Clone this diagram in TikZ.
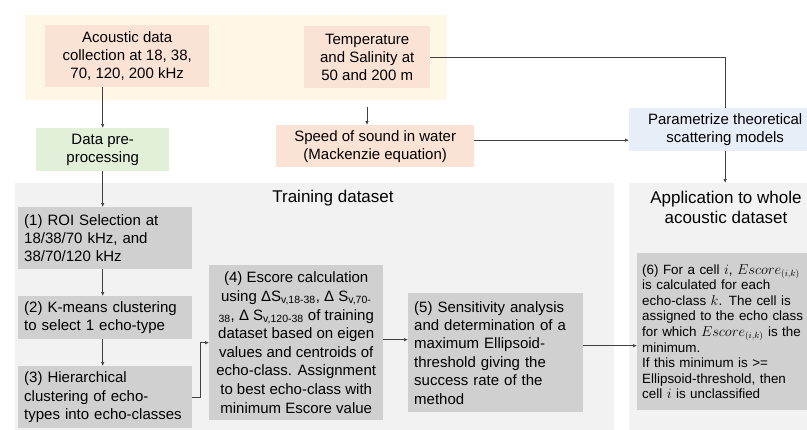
\documentclass[tikz,border=0pt]{standalone}
\usepackage{fontspec}
\setmainfont{Liberation Sans}
\usetikzlibrary{arrows.meta}
\definecolor{bandc}{RGB}{255,247,230}
\definecolor{salmon}{RGB}{250,226,212}
\definecolor{greenbox}{RGB}{226,240,217}
\definecolor{bluebox}{RGB}{232,238,248}
\definecolor{panelc}{RGB}{242,242,242}
\definecolor{graybox}{RGB}{208,208,208}
\definecolor{linec}{RGB}{64,64,64}
\tikzset{
  bg/.style={anchor=north west, inner sep=0pt, draw=none},
  ctext/.style={font=\fontsize{15}{18}\selectfont, align=center},
  lbox/.style={fill=graybox, font=\fontsize{15}{18.4}\selectfont, align=left, inner xsep=6pt, inner ysep=0pt},
  cbox/.style={fill=graybox, font=\fontsize{15}{18.6}\selectfont, align=center},
  title/.style={font=\fontsize{17}{20}\selectfont, align=center, inner sep=0pt},
  conn/.style={draw=linec, line width=0.7pt, -{Latex[length=4pt,width=3.5pt]}},
  plainline/.style={draw=linec, line width=0.7pt},
}
\begin{document}
\begin{tikzpicture}[x=1pt,y=-1pt]
\useasboundingbox (0,0) rectangle (807,429);
% backgrounds
\node[bg, fill=bandc, minimum width=422pt, minimum height=85pt] (band) at (25,15) {};
\node[bg, fill=panelc, minimum width=599pt, minimum height=250pt] (lpanel) at (15,183) {};
\node[bg, fill=panelc, minimum width=192pt, minimum height=250pt] (rpanel) at (629,183) {};
% top boxes
\node[bg, ctext, fill=salmon, minimum width=164pt, minimum height=62pt] (acoustic) at (45,25)
  {Acoustic data\\collection at 18, 38,\\70, 120, 200 kHz};
\node[bg, ctext, fill=salmon, minimum width=126pt, minimum height=62pt] (temp) at (304,26)
  {Temperature\\and Salinity at\\50 and 200 m};
\node[bg, ctext, fill=greenbox, minimum width=133pt, minimum height=43pt] (pre) at (36,128)
  {Data pre-\\processing};
\node[bg, ctext, fill=salmon, minimum width=198pt, minimum height=42pt] (speed) at (276,125)
  {Speed of sound in water\\(Mackenzie equation)};
\node[bg, ctext, fill=bluebox, minimum width=192pt, minimum height=43pt] (param) at (629,108)
  {Parametrize theoretical\\scattering models};
% titles
\node[title] (traintitle) at (333,198) {Training dataset};
\node[title] (apptitle) at (726,207) {Application to whole\\acoustic dataset};
% gray boxes
\node[bg, lbox, text width=162pt, minimum height=62pt] (roi) at (18,207)
  {(1) ROI Selection at\\18/38/70 kHz, and\\38/70/120 kHz};
\node[bg, lbox, text width=162pt, minimum height=43pt] (km) at (18,296)
  {(2) K-means clustering\\to select 1 echo-type};
\node[bg, lbox, text width=162pt, minimum height=62pt] (hier) at (18,366)
  {(3) Hierarchical\\clustering of echo-\\types into echo-classes};
\node[bg, cbox, minimum width=174pt, minimum height=155pt] (b4) at (209,265)
  {(4) Escore calculation\\
   using ΔS\textsubscript{v,18-38}, Δ S\textsubscript{v,70-}\\
   \textsubscript{38}, Δ S\textsubscript{v,120-38} of training\\
   dataset based on eigen\\
   values and centroids of\\
   echo-class. Assignment\\
   to best echo-class with\\
   minimum Escore value};
\node[bg, lbox, text width=163pt, minimum height=119pt] (b5) at (408,293)
  {(5) Sensitivity analysis\\and determination of a\\maximum Ellipsoid-\\threshold giving the\\success rate of the\\method};
\node[bg, lbox, font=\fontsize{13.4}{15.6}\selectfont, inner xsep=5pt, text width=176pt, minimum height=157pt] (b6) at (637,253)
  {(6) For a cell $i$, $Escore_{(i,k)}$\\
   is calculated for each\\
   echo-class $k$. The cell is\\
   assigned to the echo class\\
   for which $Escore_{(i,k)}$ is the\\
   minimum.\\
   If this minimum is >=\\
   Ellipsoid-threshold, then\\
   cell $i$ is unclassified};
% connectors
\coordinate (tdown) at (367,107);
\draw[conn] (acoustic.south -| pre.north) -- (pre.north);
\draw[conn] (pre.south) -- (pre.south |- roi.north);
\draw[conn] (roi.south -| pre.south) -- (km.north -| pre.south);
\draw[conn] (km.south -| pre.south) -- (hier.north -| pre.south);
\draw[conn] (hier.east) -- ++(8,0) |- (b4.west);
\draw[conn] ([yshift=3pt]b4.east) -- ([yshift=3pt]b4.east -| b5.west);
\draw[conn] ([yshift=7pt]b5.east) -- ([yshift=7pt]b5.east -| b6.west);
\draw[plainline] (temp.east) -| (param.north);
\draw[conn] (tdown) -- (tdown |- speed.north);
\draw[conn] ([yshift=6pt]speed.east) -- ([yshift=6pt]speed.east -| param.west);
\draw[conn] (param.south) -- (param.south |- rpanel.north);
\end{tikzpicture}
\end{document}
